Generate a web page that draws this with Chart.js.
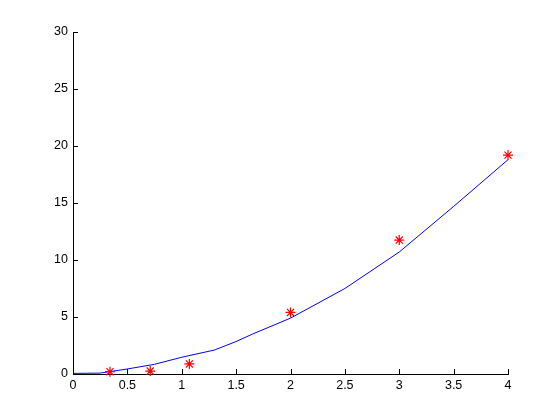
<!DOCTYPE html>
<html lang="en">
<head>
    <meta charset="UTF-8">
    <title>Fit</title>
    <script src="https://cdn.jsdelivr.net/npm/chart.js"></script>
    <style>
        body { margin: 0; background: #fff; }
    </style>
</head>
<body>
<canvas id="fitChart" width="560" height="420"></canvas>

<script>
    // measured points (red stars)
    var measX = [0.34, 0.71, 1.07, 2, 3, 4];
    var measY = [0.2, 0.26, 0.88, 5.4, 11.75, 19.2];

    // fitted curve (blue line)
    var fitX = [0, 0.25, 0.5, 0.75, 1, 1.3, 1.5, 1.65, 2, 2.5, 3, 3.5, 4];
    var fitY = [0.05, 0.08, 0.44, 0.85, 1.47, 2.1, 2.85, 3.5, 4.9, 7.5, 10.7, 14.7, 18.8];

    var xTicks = [0, 0.5, 1, 1.5, 2, 2.5, 3, 3.5, 4];
    var yTicks = [0, 5, 10, 15, 20, 25, 30];

    function toPoints(xs, ys) {
        return xs.map(function(x, i) { return {x: x, y: ys[i]}; });
    }

    // MATLAB style ticks pointing into the plot
    var inwardTicks = {
        id: 'inwardTicks',
        afterDraw: function(chart) {
            var ctx = chart.ctx;
            var xs = chart.scales.x, ys = chart.scales.y;
            var area = chart.chartArea;
            ctx.save();
            ctx.strokeStyle = '#000';
            ctx.lineWidth = 1;
            ctx.beginPath();
            xTicks.forEach(function(v) {
                var px = Math.round(xs.getPixelForValue(v)) + 0.5;
                ctx.moveTo(px, area.bottom);
                ctx.lineTo(px, area.bottom - 5);
            });
            yTicks.forEach(function(v) {
                var py = Math.round(ys.getPixelForValue(v)) + 0.5;
                ctx.moveTo(area.left, py);
                ctx.lineTo(area.left + 5, py);
            });
            ctx.stroke();
            ctx.restore();
        }
    };

    var ctx = document.getElementById('fitChart').getContext('2d');
    new Chart(ctx, {
        type: 'scatter',
        data: {
            datasets: [{
                label: 'data',
                data: toPoints(measX, measY),
                pointStyle: 'star',
                pointRadius: 5,
                pointBorderColor: '#ff0000',
                pointBackgroundColor: '#ff0000',
                pointBorderWidth: 1.2,
                showLine: false,
                clip: false
            }, {
                label: 'fit',
                data: toPoints(fitX, fitY),
                showLine: true,
                borderColor: '#0000ff',
                borderWidth: 1,
                pointRadius: 0,
                tension: 0
            }]
        },
        options: {
            responsive: false,
            animation: false,
            layout: { padding: { top: 32, right: 52, left: 0, bottom: 0 } },
            plugins: {
                legend: { display: false },
                tooltip: { enabled: false }
            },
            scales: {
                x: {
                    type: 'linear',
                    min: 0,
                    max: 4,
                    afterFit: function(s) { s.height = 46; },
                    afterBuildTicks: function(s) { s.ticks = xTicks.map(function(v) { return {value: v}; }); },
                    grid: { drawOnChartArea: false, drawTicks: false },
                    border: { color: '#000', width: 1 },
                    ticks: {
                        color: '#000',
                        padding: 4,
                        maxRotation: 0,
                        font: { family: 'Liberation Sans', size: 12.5 },
                        callback: function(v) { return String(v); }
                    }
                },
                y: {
                    type: 'linear',
                    min: 0,
                    max: 30,
                    afterFit: function(s) { s.width = 73; },
                    afterBuildTicks: function(s) { s.ticks = yTicks.map(function(v) { return {value: v}; }); },
                    grid: { drawOnChartArea: false, drawTicks: false },
                    border: { color: '#000', width: 1 },
                    ticks: {
                        color: '#000',
                        padding: 5,
                        font: { family: 'Liberation Sans', size: 12.5 },
                        callback: function(v) { return String(v); }
                    }
                }
            }
        },
        plugins: [inwardTicks]
    });
</script>
</body>
</html>
